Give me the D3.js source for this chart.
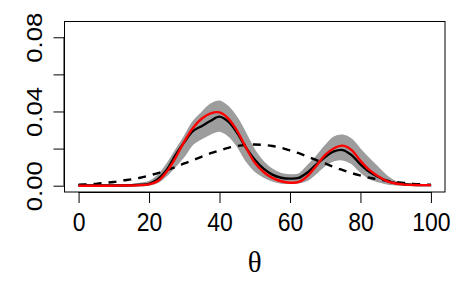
<!DOCTYPE html>
<html>
<head>
<meta charset="utf-8">
<script src="https://cdn.jsdelivr.net/npm/d3@7"></script>
<style>
  body { margin: 0; background: #fff; }
  svg { display: block; }
</style>
</head>
<body>
<div id="chart"></div>
<script>
var theta = [0, 2.5, 5, 7.5, 10, 12.5, 15, 17.5, 20, 22.5, 25, 27.5, 30, 32.5, 35, 37.5, 40, 42.5, 45, 47.5,
             50, 52.5, 55, 57.5, 60, 62.5, 65, 67.5, 70, 72.5, 75, 77.5, 80, 82.5, 85, 87.5, 90, 92.5, 95, 97.5, 100];

// true density (red)
var truth = [0, 0, 0, 0, 0, 0.0001, 0.0001, 0.0003, 0.0007, 0.0025, 0.0075, 0.0150, 0.0238, 0.0312, 0.0362, 0.0390, 0.0395, 0.0362, 0.0296, 0.0205,
             0.0125, 0.0074, 0.0042, 0.0024, 0.0016, 0.0020, 0.0053, 0.0108, 0.0166, 0.0202, 0.0216, 0.0192, 0.0134, 0.0085, 0.0051, 0.0025, 0.0012, 0.0006, 0.0004, 0.0003, 0.0003];

// estimate (black)
var estimate = [0.0001, 0.0001, 0.0001, 0.0001, 0.0001, 0.0001, 0.0002, 0.0005, 0.0010, 0.0035, 0.0085, 0.0165, 0.0235, 0.0295, 0.0322, 0.0350, 0.0372, 0.0345, 0.0285, 0.0205,
                0.0140, 0.0092, 0.0060, 0.0043, 0.0038, 0.0042, 0.0072, 0.0115, 0.0155, 0.0185, 0.0192, 0.0165, 0.0115, 0.0075, 0.0048, 0.0026, 0.0014, 0.0008, 0.0005, 0.0003, 0.0003];

// band (grey)
var upper = [0.0004, 0.0004, 0.0004, 0.0004, 0.0004, 0.0004, 0.0005, 0.0012, 0.0022, 0.0055, 0.0115, 0.0190, 0.0265, 0.0345, 0.0395, 0.0440, 0.0455, 0.0425, 0.0365, 0.0280,
             0.0190, 0.0128, 0.0088, 0.0065, 0.0058, 0.0062, 0.0108, 0.0158, 0.0215, 0.0262, 0.0272, 0.0250, 0.0195, 0.0145, 0.0098, 0.0052, 0.0022, 0.0010, 0.0006, 0.0005, 0.0004];
var lower = [0, 0, 0, 0, 0, 0, 0, 0, 0.0003, 0.0018, 0.0055, 0.0105, 0.0160, 0.0225, 0.0255, 0.0280, 0.0295, 0.0270, 0.0215, 0.0135,
             0.0080, 0.0048, 0.0026, 0.0015, 0.0013, 0.0016, 0.0030, 0.0068, 0.0110, 0.0135, 0.0140, 0.0120, 0.0075, 0.0040, 0.0022, 0.0010, 0.0005, 0.0002, 0.0001, 0.0001, 0.0001];

// prior (dashed)
var prior = [0.0005, 0.0007, 0.0010, 0.0015, 0.0020, 0.0028, 0.0034, 0.0043, 0.0055, 0.0068, 0.0084, 0.0100, 0.0120, 0.0138, 0.0157, 0.0175, 0.0190, 0.0204, 0.0214, 0.0220,
             0.0222, 0.0220, 0.0214, 0.0204, 0.0190, 0.0175, 0.0157, 0.0138, 0.0120, 0.0100, 0.0084, 0.0068, 0.0055, 0.0043, 0.0034, 0.0027, 0.0020, 0.0015, 0.0010, 0.0007, 0.0005];

var xTicks = [0, 20, 40, 60, 80, 100];
var yTicks = [0, 0.02, 0.04, 0.06, 0.08];
var yLabels = ["0.00", "", "0.04", "", "0.08"];

var width = 465, height = 286;
var mLeft = 64.5, mRight = 445, mTop = 21.5, mBottom = 192;
var stretch = 1.12; // the original looks slightly taller than wide

var svg = d3.select("#chart").append("svg")
    .attr("width", width)
    .attr("height", height);

// R style 4% padding on both axes
var x = d3.scaleLinear().domain([-4, 104]).range([mLeft, mRight]);
var y = d3.scaleLinear().domain([-0.0034, 0.0885]).range([mBottom, mTop]);

var rows = theta.map(function(t, i) {
  return {t: t, truth: truth[i], est: estimate[i], lo: lower[i], hi: upper[i], prior: prior[i]};
});

var curve = d3.curveCatmullRom.alpha(0.5);

var band = d3.area()
    .x(function(d) { return x(d.t); })
    .y0(function(d) { return y(d.lo); })
    .y1(function(d) { return y(d.hi); })
    .curve(curve);

function lineOf(key) {
  return d3.line()
    .x(function(d) { return x(d.t); })
    .y(function(d) { return y(d[key]); })
    .curve(curve);
}

var plot = svg.append("g");

plot.append("path")
    .datum(rows)
    .attr("d", band)
    .attr("fill", "#9d9d9d")
    .attr("stroke", "#9d9d9d")
    .attr("stroke-width", 1.5);

plot.append("path")
    .datum(rows)
    .attr("d", lineOf("est"))
    .attr("fill", "none")
    .attr("stroke", "#000")
    .attr("stroke-width", 2.4);

plot.append("path")
    .datum(rows)
    .attr("d", lineOf("prior"))
    .attr("fill", "none")
    .attr("stroke", "#000")
    .attr("stroke-width", 2.4)
    .attr("stroke-dasharray", "8,7");

plot.append("path")
    .datum(rows)
    .attr("d", lineOf("truth"))
    .attr("fill", "none")
    .attr("stroke", "#ff0000")
    .attr("stroke-width", 2.4);

// box
svg.append("rect")
    .attr("x", mLeft)
    .attr("y", mTop)
    .attr("width", mRight - mLeft)
    .attr("height", mBottom - mTop)
    .attr("fill", "none")
    .attr("stroke", "#000")
    .attr("stroke-width", 1);

// x axis
var xAxis = d3.axisBottom(x)
    .tickValues(xTicks)
    .tickSize(11)
    .tickFormat(d3.format("d"));

var gx = svg.append("g")
    .attr("transform", "translate(0," + mBottom + ")")
    .call(xAxis);
gx.select(".domain")
    .attr("d", "M" + x(0) + ",0.5H" + x(100));
gx.selectAll(".tick text")
    .attr("font-family", "Liberation Sans, Arial, sans-serif")
    .attr("font-size", 23)
    .attr("fill", "#000")
    .attr("y", null)
    .attr("dy", null)
    .attr("transform", "translate(0,38.5) scale(1," + stretch + ")");

// y axis
var yAxis = d3.axisLeft(y)
    .tickValues(yTicks)
    .tickSize(11)
    .tickFormat(function(d, i) { return yLabels[i]; });

var gy = svg.append("g")
    .attr("transform", "translate(" + mLeft + ",0)")
    .call(yAxis);
gy.select(".domain")
    .attr("d", "M-0.5," + y(0) + "V" + y(0.08));
gy.selectAll(".tick text")
    .attr("font-family", "Liberation Sans, Arial, sans-serif")
    .attr("font-size", 23)
    .attr("fill", "#000")
    .attr("x", null)
    .attr("dy", null)
    .attr("text-anchor", "middle")
    .attr("transform", "translate(-23,0) rotate(-90) scale(" + stretch + ",1)");

svg.append("text")
    .attr("x", (mLeft + mRight) / 2)
    .attr("y", 271.5)
    .attr("text-anchor", "middle")
    .attr("font-family", "Liberation Serif, serif")
    .attr("font-size", 29)
    .text("θ");
</script>
</body>
</html>
